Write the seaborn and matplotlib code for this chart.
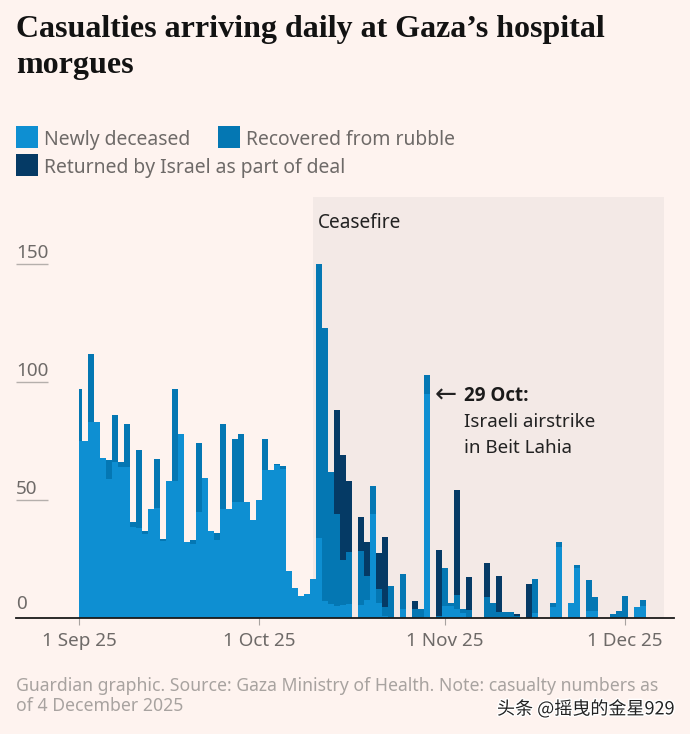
import matplotlib
matplotlib.use("Agg")
import matplotlib.pyplot as plt
import matplotlib.patheffects as pe
from matplotlib.patches import Rectangle
import pandas as pd
import seaborn as sns

# Daily counts from 1 Sep 2025
newly_deceased = [
    75, 75, 83, 83, 68, 59, 66, 64, 64, 38.5,
    38, 35.5, 46, 46.5, 32.6, 58, 58, 78, 32, 31.3,
    45, 59.3, 37, 33, 46, 46, 49, 49, 49, 41.4,
    50, 62.7, 62.7, 65, 63, 20, 12.8, 9.2, 10.2, 16.5,
    34, 7, 6, 5, 5.5, 6, 0, 5.5, 7.6, 44,
    6.5, 1, 0, 0, 4, 0, 0, 0, 95, 0,
    0, 5, 5, 3.7, 2, 0, 0, 0, 0, 0,
    0, 0, 0, 0, 0, 0, 2, 0, 0, 4.5,
    30, 0, 6.5, 21, 0, 3, 3, 0, 0, 0,
    0, 0, 0, 4.5, 5,
]
recovered = [
    22, 0, 29, 0, 0, 8, 20, 2, 18, 2,
    33, 1.5, 0, 21, 0.7, 0, 39, 0, 0, 1.7,
    29, 0, 0, 3, 36, 0, 27, 29, 0, 0,
    0, 13.3, 0, 0.4, 1.5, 0, 0, 0, 0, 0,
    116, 116, 56, 39, 19, 22, 0, 23, 10, 12,
    6, 3.5, 13.6, 0, 14.6, 0, 3.7, 3.7, 8, 0,
    1, 16, 1.5, 6, 1.7, 3.4, 0, 0, 9, 6.5,
    2.6, 2.6, 2.6, 1, 0, 0, 14.6, 0, 0, 2,
    2.3, 0, 0, 1.5, 0, 13, 6, 0, 0, 1.7,
    2.9, 9.3, 0, 0, 2.8,
]
returned = [
    0, 0, 0, 0, 0, 0, 0, 0, 0, 0,
    0, 0, 0, 0, 0, 0, 0, 0, 0, 0,
    0, 0, 0, 0, 0, 0, 0, 0, 0, 0,
    0, 0, 0, 0, 0, 0, 0, 0, 0, 0,
    0, 0, 0, 44, 44.5, 30, 0, 14.5, 14.5, 0,
    15, 30, 0, 0, 0, 0, 3.6, 0, 0, 0,
    28, 0, 0, 44.5, 0, 14, 0, 0, 14.5, 0,
    15, 0, 0, 0.8, 0, 14.6, 0, 0, 0, 0,
    0, 0, 0, 0, 0, 0, 0, 0, 0, 0,
    0, 0, 0, 0, 0,
]
series_names = ["Newly deceased", "Recovered from rubble", "Returned by Israel as part of deal"]
tick_days = [0, 30, 61, 91]
tick_labels = ["1 Sep 25", "1 Oct 25", "1 Nov 25", "1 Dec 25"]
y_values = [0, 50, 100, 150]

BG = "#FEF3EF"
BAND = "#F3E9E6"
GREY = "#6E6A68"
colors = ["#0E8FD2", "#0477B3", "#053A65"]
W, H = 690, 734

days = list(range(len(newly_deceased)))
df = pd.concat(
    [
        pd.DataFrame({"day": days, "count": vals, "kind": name})
        for name, vals in zip(series_names, [newly_deceased, recovered, returned])
    ]
)

sns.set_theme(style="white")
plt.rcParams["font.family"] = ["Noto Sans", "DejaVu Sans"]

fig = plt.figure(figsize=(W / 100, H / 100), dpi=100, facecolor=BG)
ax = fig.add_axes([16 / W, 1 - 618 / H, 658 / W, 421 / H])
ax.set_facecolor("none")

# Ceasefire band goes behind the bars
ax.axvspan(39, 97.5, color=BAND, lw=0, zorder=0)

sns.histplot(
    data=df,
    x="day",
    weights="count",
    hue="kind",
    hue_order=series_names[::-1],
    palette=dict(zip(series_names, colors)),
    multiple="stack",
    discrete=True,
    linewidth=0,
    alpha=1,
    legend=False,
    ax=ax,
)

# The first day is cut off at the start of the axis
for p in ax.patches:
    if p.get_x() < 0:
        p.set_x(0)
        p.set_width(0.5)

ax.set_xlim(-10.5, 99.17)
ax.set_ylim(0, 421 / 2.36)
ax.set_xlabel("")
ax.set_ylabel("")
for side in ["top", "left", "right"]:
    ax.spines[side].set_visible(False)
ax.spines["bottom"].set_color("#1A1A1A")
ax.spines["bottom"].set_linewidth(1.3)

ax.set_yticks([])
ax.set_xticks(tick_days)
ax.set_xticklabels(tick_labels, fontsize=13.6, color=GREY)
ax.tick_params(axis="x", length=5, width=0.8, color="#A8A3A0", pad=5, bottom=True)

# Short rules and labels for the y values
for v in y_values:
    if v > 0:
        ax.hlines(v, -10.5, -5.2, color="#B5AFAC", lw=1, zorder=1)
    ax.annotate(str(v), (-10.5, v), xytext=(0, 1.5 if v else 3.5), textcoords="offset points",
                ha="left", va="bottom", fontsize=13.6, color=GREY)


def px_text(x, y, s, **kw):
    return fig.text(x / W, 1 - y / H, s, **kw)


# Title
title_kw = dict(family="Liberation Serif", weight="bold", fontsize=23, color="#121212", va="baseline")
px_text(16, 37, "Casualties arriving daily at Gaza\u2019s hospital", **title_kw)
px_text(16, 73, "morgues", **title_kw)

# Legend, laid out by hand because the rows are uneven
legend_pos = [(16, 126), (218, 126), (16, 154)]
for (x, y), name, c in zip(legend_pos, series_names, colors):
    fig.add_artist(Rectangle((x / W, 1 - (y + 22) / H), 22 / W, 22 / H, transform=fig.transFigure, color=c, lw=0))
    px_text(x + 28, y + 14, name, fontsize=13.9, color=GREY, va="center")

px_text(318, 223, "Ceasefire", fontsize=13.7, color="#222222", va="center")

# Annotation for the 29 Oct spike
px_text(435, 396, "\u2190", fontsize=19, color="#222222", va="center", family="DejaVu Sans")
px_text(464, 396, "29 Oct:", fontsize=13.5, weight="bold", color="#1A1A1A", va="center", family="Open Sans")
px_text(464, 422, "Israeli airstrike", fontsize=13.5, color="#222222", va="center")
px_text(464, 448, "in Beit Lahia", fontsize=13.5, color="#222222", va="center")

# Footer
px_text(16, 686, "Guardian graphic. Source: Gaza Ministry of Health. Note: casualty numbers as",
        fontsize=12.7, color="#A8A3A0", va="center")
px_text(16, 706, "of 4 December 2025", fontsize=12.7, color="#A8A3A0", va="center")

# Watermark
px_text(497, 709, "\u5934\u6761 @\u6447\u66f3\u7684\u91d1\u661f929", fontsize=13, color="#222222", va="center",
        family=["Noto Sans CJK SC", "DejaVu Sans"],
        path_effects=[pe.withStroke(linewidth=2, foreground="white")])

fig.savefig("out.png", dpi=100, facecolor=BG)
